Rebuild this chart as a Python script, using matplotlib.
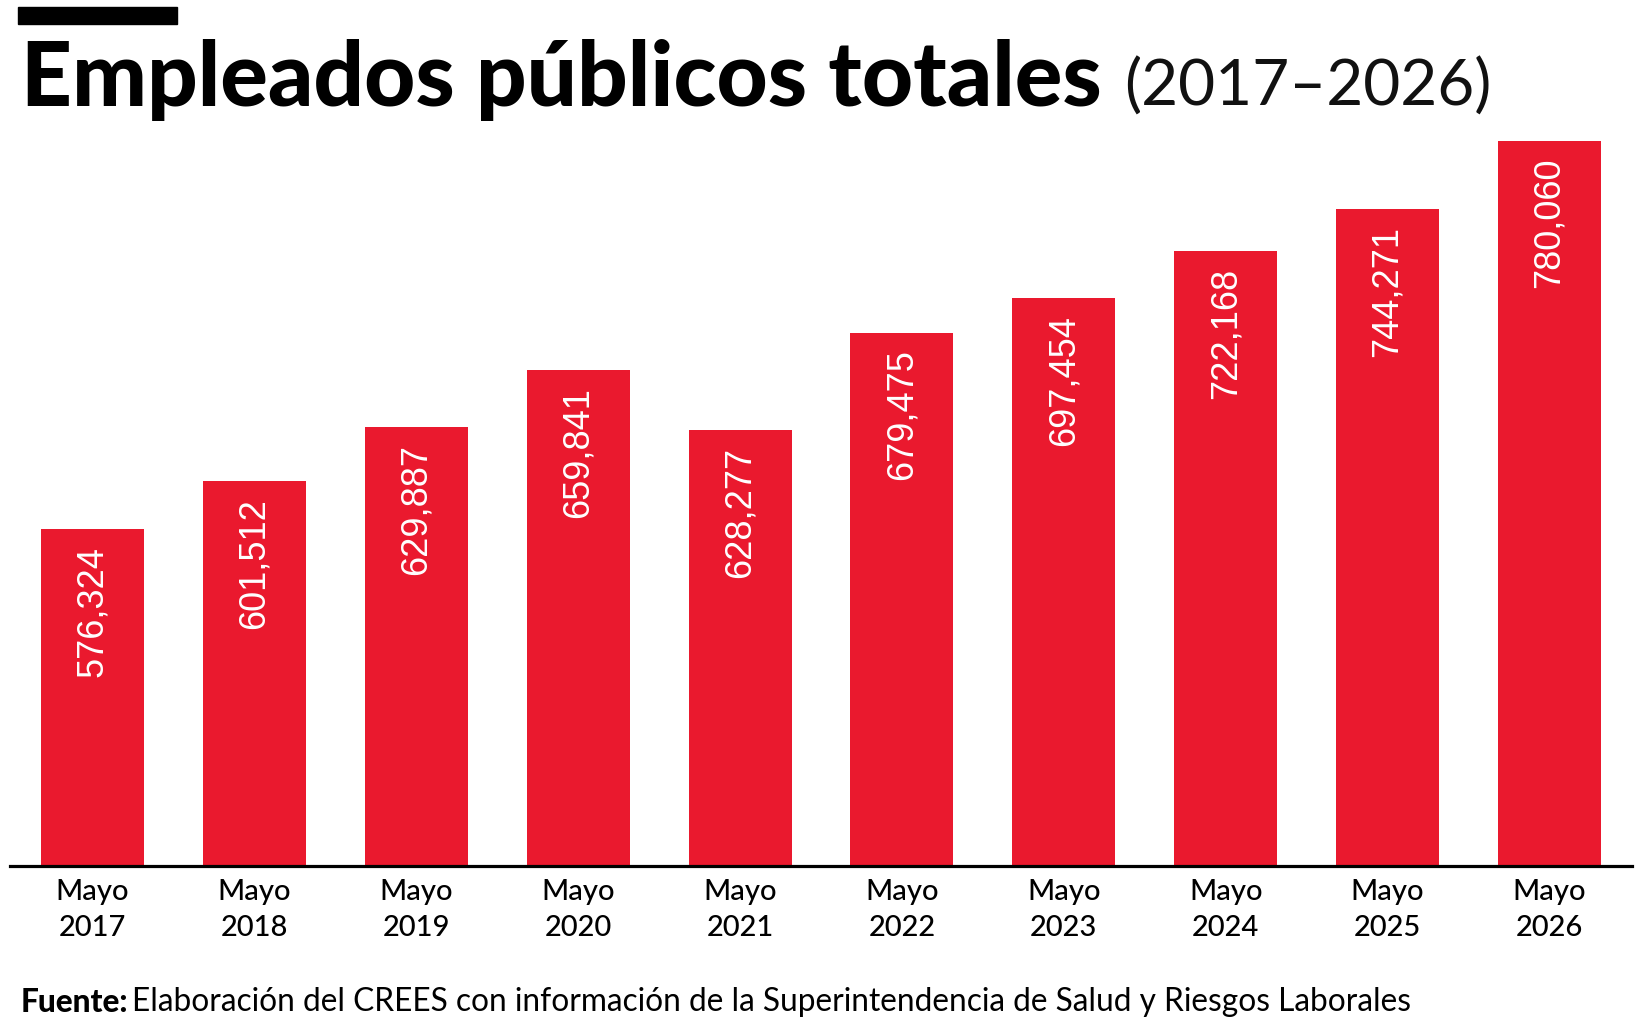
import matplotlib
matplotlib.use('Agg')
import matplotlib.pyplot as plt
from matplotlib.patches import Rectangle

years = ['2017', '2018', '2019', '2020', '2021', '2022', '2023', '2024', '2025', '2026']
empleados = [576324, 601512, 629887, 659841, 628277, 679475, 697454, 722168, 744271, 780060]
etiquetas = ['Mayo\n' + y for y in years]

titulo = 'Empleados públicos totales'
periodo = '(2017–2026)'
fuente = 'Fuente:'
fuente_txt = 'Elaboración del CREES con información de la Superintendencia de Salud y Riesgos Laborales'

ROJO = '#EA192E'
W, H = 1639, 1024

fig = plt.figure(figsize=(W / 100, H / 100), dpi=100)
fig.patch.set_facecolor('white')

# decorative bar above the title
fig.patches.append(Rectangle((18 / W, 1 - 24 / H), 159 / W, 17 / H,
                             transform=fig.transFigure, color='black'))

ax = fig.add_axes([10 / W, 1 - 865.5 / H, 1622 / W, 724.5 / H])
x = list(range(len(years)))
ax.bar(x, empleados, width=0.636, color=ROJO, zorder=1)
ax.set_ylim(400000, 780060)
ax.set_xlim(-0.51, 9.51)

for xi, v in zip(x, empleados):
    ax.annotate(f'{v:,}', xy=(xi, v), xytext=(0, -12), textcoords='offset points',
                rotation=90, ha='center', va='top', color='white',
                fontsize=26, family='Liberation Sans')

ax.set_xticks(x, etiquetas)
for lab in ax.get_xticklabels():
    lab.set_family('Lato')
    lab.set_weight('medium')
    lab.set_fontsize(21)
    lab.set_linespacing(1.45)
ax.tick_params(axis='x', length=0, pad=10)
ax.set_yticks([])
for s in ['top', 'right', 'left']:
    ax.spines[s].set_visible(False)
ax.spines['bottom'].set_linewidth(2.3)
ax.spines['bottom'].set_color('black')
ax.spines['bottom'].set_zorder(3)

fig.text(21 / W, 1 - 106 / H, titulo, family='Lato', weight='black',
         fontsize=64, va='baseline', ha='left')
fig.text(1124 / W, 1 - 106 / H, periodo, family='Lato', weight='normal',
         fontsize=46, va='baseline', ha='left', color='#111111')

t1 = fig.text(21 / W, 12 / H, fuente, family='Lato', weight='black',
              fontsize=22.8, va='baseline', ha='left')
ax.annotate(fuente_txt, xy=(1, 0), xycoords=t1, xytext=(4, 0),
            textcoords='offset pixels', va='bottom', ha='left',
            family='Lato', fontsize=22.8)

fig.savefig('out.png', dpi=100)
